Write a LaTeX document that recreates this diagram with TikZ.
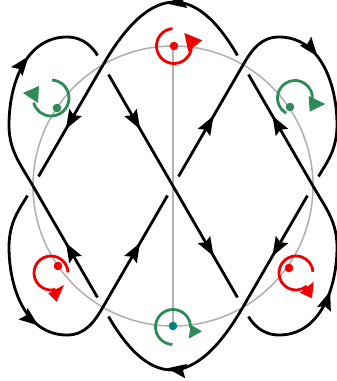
\documentclass[tikz,border=0pt]{standalone}
\usetikzlibrary{arrows.meta,decorations.markings,calc}
\definecolor{seagr}{RGB}{46,139,87}
\definecolor{tealdot}{RGB}{0,128,128}
\definecolor{guide}{RGB}{178,178,178}
\definecolor{hotred}{RGB}{240,0,0}
\begin{document}
\begin{tikzpicture}[x=1pt,y=1pt,
  strand/.style={line width=2.8pt, black},
  arr/.style={postaction={decorate},decoration={markings,mark=at position #1 with {\arrow{Stealth[length=19pt,width=14pt,inset=3pt]}}}},
  icon/.style={line width=2.8pt},
  guideline/.style={guide, line width=1.6pt},
  uin/.style={shorten <=11pt},
  uout/.style={shorten >=11pt}]
\useasboundingbox (0,0) rectangle (337,-381);
% crossings
\coordinate (C) at (173,-186);
\coordinate (L) at (33,-186);
\coordinate (R) at (313,-186);
\coordinate (TL) at (103,-65);
\coordinate (TR) at (243,-65);
\coordinate (BL) at (103,-307);
\coordinate (BR) at (243,-307);
% guide circle and axis
\draw[guideline] (C) circle (140);
\draw[guideline] (173,-46) -- (173,-326);
% strands
\draw[strand, uin, arr=0.53] (TR) .. controls ($(TR)+(120:95)$) and ($(TL)+(60:95)$) .. (TL);
\draw[strand, uout, arr=0.53] (TL) -- (L);
\draw[strand, uin, arr=0.66] (L) to[out=-120,in=90] (9,-247) to[out=-90,in=180] (67,-335) to[out=0,in=-120] (BL);
\draw[strand, uout, arr=0.53] (BL) -- (C);
\draw[strand, uin, arr=0.58] (C) -- (TR);
\draw[strand, uout, arr=0.4] (TR) to[out=60,in=180] (279,-37) to[out=0,in=90] (337,-125) to[out=-90,in=60] (R);
\draw[strand, uin, arr=0.58] (R) -- (BR);
\draw[strand, uout, arr=0.53] (BR) .. controls ($(BR)+(-120:95)$) and ($(BL)+(-60:95)$) .. (BL);
\draw[strand, uin, arr=0.53] (BL) -- (L);
\draw[strand, uout, arr=0.6] (L) to[out=120,in=-90] (9,-125) to[out=90,in=180] (67,-37) to[out=0,in=120] (TL);
\draw[strand, uin, arr=0.53] (TL) -- (C);
\draw[strand, uout, arr=0.58] (C) -- (BR);
\draw[strand, uin, arr=0.52] (BR) to[out=-60,in=180] (279,-335) to[out=0,in=-90] (337,-247) to[out=90,in=-60] (R);
\draw[strand, uout, arr=0.58] (R) -- (TR);
% top red
\draw[icon, hotred] (174,-46) ++(95:17.5) arc[start angle=95, end angle=360, radius=17.5];
\fill[hotred] (184.3,-33) -- (202.3,-40.3) -- (188.3,-51.3) -- cycle;
\fill[hotred] (174,-46) circle (4.3);
% bottom teal
\draw[icon, seagr] (173,-327) ++(268:17.5) arc[start angle=268, end angle=-2, radius=17.5];
\fill[seagr] (190.7,-324.7) -- (202,-331.3) -- (188.7,-338.7) -- cycle;
\fill[tealdot] (173,-326) circle (4.3);
% upper left green
\draw[icon, seagr] (51,-98) ++(87:18) arc[start angle=87, end angle=-165, radius=18];
\fill[seagr] (39,-86) -- (23,-93) -- (38,-103) -- cycle;
\fill[seagr] (57,-108) circle (4.3);
% upper right green
\draw[icon, seagr] (295,-98) ++(240:17.5) arc[start angle=240, end angle=-10, radius=17.5];
\fill[seagr] (308.7,-96) -- (325.3,-104) -- (309.7,-111.7) -- cycle;
\fill[seagr] (290,-107) circle (4.3);
% lower left red
\draw[icon, hotred] (51,-273) ++(2:17) arc[start angle=2, end angle=285, radius=17];
\fill[hotred] (48.3,-293.3) -- (64,-285) -- (56.7,-301.7) -- cycle;
\fill[hotred] (58,-266) circle (4.3);
% lower right red
\draw[icon, hotred] (296,-273) ++(4:17) arc[start angle=4, end angle=310, radius=17];
\fill[hotred] (300,-292.7) -- (313.7,-281.7) -- (312,-298.3) -- cycle;
\fill[hotred] (289,-268) circle (4.3);
\end{tikzpicture}
\end{document}
